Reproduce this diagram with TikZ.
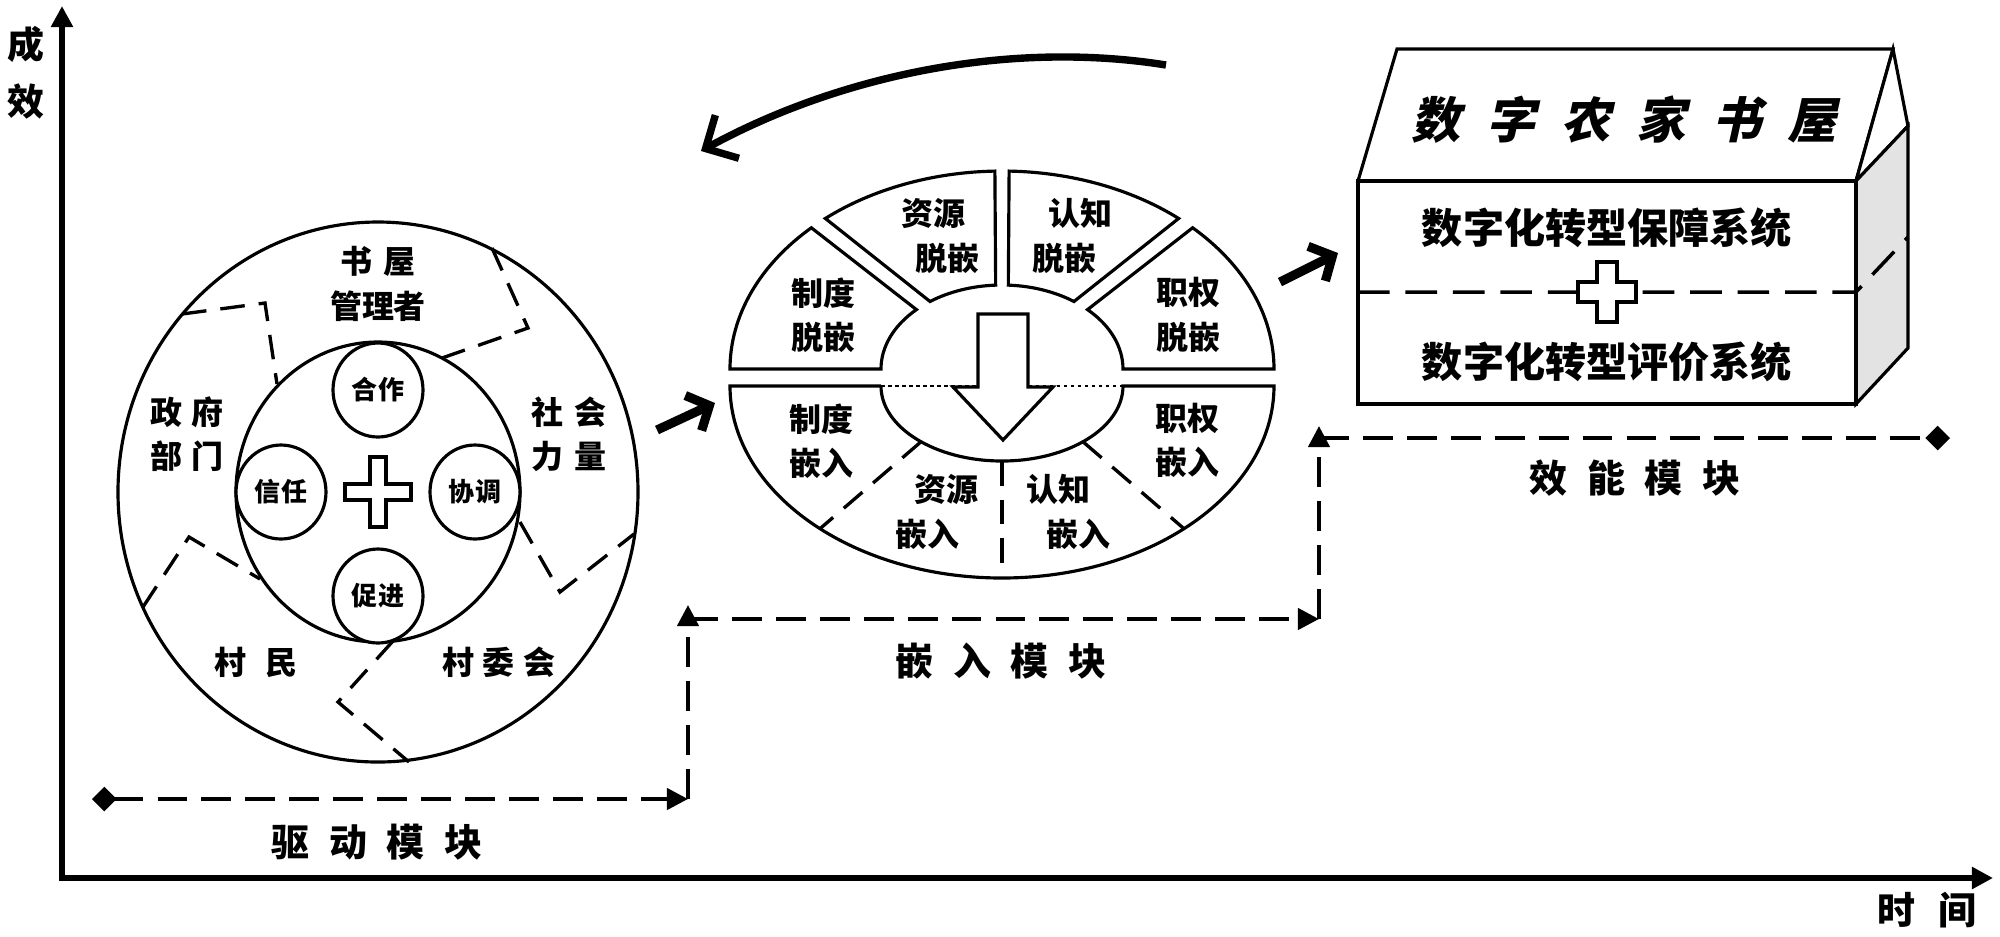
\documentclass[tikz,border=0pt]{standalone}
\usepackage{fontspec}
\setmainfont{Noto Sans CJK SC}
\newfontfamily\slantfont{Noto Sans CJK SC}[FakeSlant=0.22]
\usetikzlibrary{arrows.meta,shapes.geometric}
\tikzset{
  ring/.style={draw,line width=0.9pt,fill=white},
  part/.style={line width=0.95pt,dash pattern=on 7pt off 4pt},
  flow/.style={line width=1.2pt,dash pattern=on 8.5pt off 4pt},
  bigarr/.style={line width=2.6pt,-{Straight Barb[length=5pt,width=11pt]}},
  txt/.style={inner sep=0pt,align=center,font=\fontsize{9.1}{12.6}\selectfont\bfseries},
  pill/.style={draw,line width=0.9pt,fill=white,ellipse,minimum width=9mm,minimum height=9.4mm,inner sep=0pt,font=\fontsize{7.4}{9}\selectfont\bfseries},
  modl/.style={inner sep=0pt,font=\fontsize{10.8}{13}\selectfont\bfseries},
  sysl/.style={inner sep=0pt,font=\fontsize{11.7}{14}\selectfont\bfseries}
}
% one piece of the upper half ring: outer start/end, inner start/end
\newcommand\topseg[4]{%
  \draw[ring] ([shift={(1002,369)}]#1:272 and 198)
    arc[start angle=#1,end angle=#2,x radius=272,y radius=198]
    -- ([shift={(1002,369)}]#3:121 and 84)
    arc[start angle=#3,end angle=#4,x radius=121,y radius=84] -- cycle;}
\begin{document}
\begin{tikzpicture}[x=0.1mm,y=-0.1mm]
\useasboundingbox (0,0) rectangle (2000,936);

% axes
\coordinate (o) at (62,878);
\coordinate (ytop) at (62,6);
\coordinate (xend) at (1993,878);
\draw[line width=1.5pt,{Triangle[length=6pt,width=6pt]}-{Triangle[length=6pt,width=6pt]}] (ytop) -- (o) -- (xend);
\node[inner sep=0pt,align=center,font=\fontsize{10.5}{16.2}\selectfont\bfseries] (yl) at (26,73) {成\\效};
\node[modl] (xl) at (1927,910) {时\hspace{2.3mm}间};

% driving circle
\begin{scope}[shift={(378,492)}]
  \draw[ring] (0,0) ellipse[x radius=260,y radius=270];
  \draw[part] (-196,-178) -- (-113,-189) -- (-101,-108);
  \draw[part] (114,-244) -- (150,-164) -- (64,-134);
  \draw[part] (142,30) -- (182,100) -- (256,42);
  \draw[part] (15,149) -- (-40,210) -- (31,270);
  \draw[part] (-235,115) -- (-189,45) -- (-118,87);
  \draw[ring] (0,0) ellipse[x radius=142,y radius=150];
  \node[pill] (hezuo) at (0,-102) {合作};
  \node[pill] (xinren) at (-97,0) {信任};
  \node[pill] (xietiao) at (97,0) {协调};
  \node[pill] (cujin) at (0,104) {促进};
  \draw[ring] (-8,-35) -- (8,-35) -- (8,-8) -- (33,-8) -- (33,8) -- (8,8) -- (8,35)
    -- (-8,35) -- (-8,8) -- (-33,8) -- (-33,-8) -- (-8,-8) -- cycle;
  \node[txt] (shuwu) at (0,-208) {书\hspace{1.2mm}屋\\管理者};
  \node[txt] (zhengfu) at (-191,-58) {政\hspace{1mm}府\\部\hspace{1mm}门};
  \node[txt] (shehui) at (191,-58) {社\hspace{1.2mm}会\\力\hspace{1.2mm}量};
  \node[txt] (cunmin) at (-122,170) {村\hspace{1.9mm}民};
  \node[txt] (cunwei) at (121,170) {村\hspace{0.9mm}委\hspace{0.9mm}会};
\end{scope}

% embedding ring
\topseg{180}{225.5}{225}{180}
\topseg{229.5}{268.5}{267}{233.5}
\topseg{271.5}{310.5}{306.5}{273}
\topseg{314.5}{360}{360}{315}
\draw[ring] (881,386) -- (730,386) arc[start angle=180,end angle=0,x radius=272,y radius=192]
  -- (1123,386) arc[start angle=0,end angle=180,x radius=121,y radius=75];
\draw[line width=0.8pt,dash pattern=on 1pt off 1pt] (881,386) -- (1123,386);
\draw[part] ([shift={(1002,386)}]132:121 and 75) -- ([shift={(1002,386)}]132:272 and 192);
\draw[part] ([shift={(1002,386)}]90:121 and 75) -- ([shift={(1002,386)}]90:272 and 192);
\draw[part] ([shift={(1002,386)}]48:121 and 75) -- ([shift={(1002,386)}]48:272 and 192);
\draw[ring] (978,314) -- (1028,314) -- (1028,387) -- (1053,387) -- (1003,440) -- (953,387) -- (978,387) -- cycle;
\node[txt] (zdt) at (823,315) {制度\\脱嵌};
\node[txt,align=left] (zyt) at (940,236) {资源\\\hspace{1.4mm}脱嵌};
\node[txt,align=left] (rzt) at (1072,236) {\hspace{1.6mm}认知\\脱嵌};
\node[txt] (zqt) at (1188,315) {职权\\脱嵌};
\node[txt] (zdq) at (821,441) {制度\\嵌入};
\node[txt,align=left] (zyq) at (937,512) {\hspace{1.9mm}资源\\嵌入};
\node[txt,align=left] (rzq) at (1068,512) {认知\\\hspace{2mm}嵌入};
\node[txt] (zqq) at (1187,440) {职权\\嵌入};

% feedback arrow
\coordinate (cs) at (1166,65);
\coordinate (ce) at (701,151);
\draw[line width=2.1pt,-{Straight Barb[length=7pt,width=14pt]}] (cs) .. controls (1010,40) and (840,75) .. (ce);

% module arrows
\coordinate (a1s) at (657,430);
\coordinate (a1e) at (715,403);
\coordinate (a2s) at (1280,282);
\coordinate (a2e) at (1338,253);
\draw[bigarr] (a1s) -- (a1e);
\draw[bigarr] (a2s) -- (a2e);

% book house
\draw[ring] (1397,49) -- (1893,49) -- (1856,181) -- (1358,181) -- cycle;
\draw[ring] (1893,49) -- (1908,126) -- (1856,181) -- cycle;
\draw[ring,fill=gray!22] (1856,181) -- (1908,126) -- (1908,348) -- (1856,404) -- cycle;
\draw[ring] (1358,181) rectangle (1856,404);
\draw[line width=1pt,dash pattern=on 9pt off 4.5pt] (1358,292) -- (1856,292) -- (1908,237);
\begin{scope}[shift={(1607,292)}]
  \draw[ring] (-10,-30) -- (10,-30) -- (10,-10) -- (29,-10) -- (29,10) -- (10,10) -- (10,30)
    -- (-10,30) -- (-10,10) -- (-29,10) -- (-29,-10) -- (-10,-10) -- cycle;
\end{scope}
\node[inner sep=0pt,font=\slantfont\fontsize{14}{16}\selectfont\bfseries] (title) at (1624,120)
  {数\hspace{2.6mm}字\hspace{2.6mm}农\hspace{2.6mm}家\hspace{2.6mm}书\hspace{2.6mm}屋};
\node[sysl] (baozhang) at (1607,228) {数字化转型保障系统};
\node[sysl] (pingjia) at (1607,362) {数字化转型评价系统};

% module steps
\coordinate (d0) at (92,799);
\coordinate (d1) at (688,799);
\coordinate (u1) at (688,605);
\coordinate (e0) at (688,619);
\coordinate (e1) at (1319,619);
\coordinate (u2) at (1319,426);
\coordinate (x0) at (1319,438);
\coordinate (x1) at (1950,438);
\draw[flow,{Diamond[length=7pt,width=7pt]}-{Triangle[length=6pt,width=6pt]}] (d0) -- (d1);
\draw[flow,-{Triangle[length=6pt,width=6pt]}] (d1) -- (u1);
\draw[flow,-{Triangle[length=6pt,width=6pt]}] (e0) -- (e1);
\draw[flow,-{Triangle[length=6pt,width=6pt]}] (e1) -- (u2);
\draw[flow,-{Diamond[length=7pt,width=7pt]}] (x0) -- (x1);
\node[modl] (qudong) at (377,842) {驱\hspace{2mm}动\hspace{2mm}模\hspace{2mm}块};
\node[modl] (qianru) at (1001,661) {嵌\hspace{2mm}入\hspace{2mm}模\hspace{2mm}块};
\node[modl] (xiaoneng) at (1635,478) {效\hspace{2mm}能\hspace{2mm}模\hspace{2mm}块};
\end{tikzpicture}
\end{document}
